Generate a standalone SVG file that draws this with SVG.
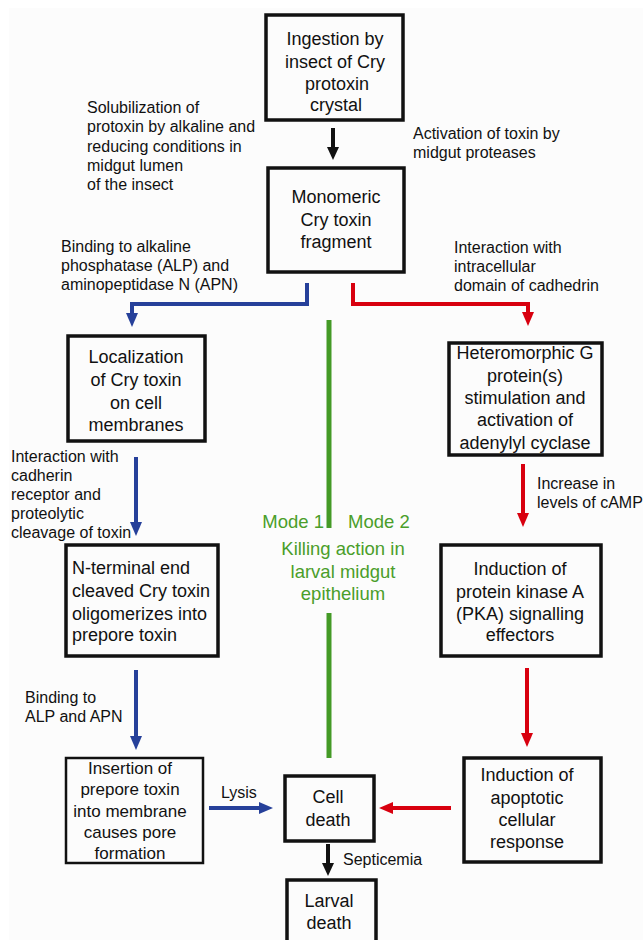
<svg xmlns="http://www.w3.org/2000/svg" width="643" height="940" viewBox="0 0 643 940">
<style>
.box{fill:none;stroke:#111;stroke-width:3.5}
.thin{fill:none;stroke:#111;stroke-width:2.5}
.nt{font-family:"Liberation Sans",Arial,sans-serif;font-size:18px;fill:#111;text-anchor:middle}
.nl{font-family:"Liberation Sans",Arial,sans-serif;font-size:18px;fill:#111}
.an{font-family:"Liberation Sans",Arial,sans-serif;font-size:16px;fill:#111}
.gt{font-family:"Liberation Sans",Arial,sans-serif;font-size:18.5px;fill:#4a9e2a}
.blue{fill:none;stroke:#26409a;stroke-width:4}
.red{fill:none;stroke:#d8000f;stroke-width:4}
.blk{fill:none;stroke:#111;stroke-width:4}
.grn{fill:none;stroke:#449a26;stroke-width:5}
</style>
<rect width="643" height="940" fill="#ffffff"/>
<rect x="9" y="8" width="634" height="932" fill="#fcfcfc"/>

<g id="connectors">
  <path class="blk" d="M333,128 V148"/>
  <path d="M327,147 H339 L333,160 Z" fill="#111"/>
  <path class="blue" d="M307,283 V304 H132 V314"/>
  <path d="M126,313 H138 L132,327 Z" fill="#26409a"/>
  <path class="red" d="M353,283 V304 H528 V313"/>
  <path d="M522,312 H534 L528,326 Z" fill="#d8000f"/>
  <path class="grn" d="M329,320 V528"/>
  <path class="grn" d="M329,613 V758"/>
  <path class="blue" d="M136,457 V523"/>
  <path d="M130,522 H142 L136,536 Z" fill="#26409a"/>
  <path class="red" d="M523,464 V514"/>
  <path d="M517,513 H529 L523,527 Z" fill="#d8000f"/>
  <path class="blue" d="M136,670 V737"/>
  <path d="M130,736 H142 L136,750 Z" fill="#26409a"/>
  <path class="red" d="M527,668 V734"/>
  <path d="M521,733 H533 L527,747 Z" fill="#d8000f"/>
  <path class="blue" d="M209,808 H260"/>
  <path d="M259,802 V814 L273,808 Z" fill="#26409a"/>
  <path class="red" d="M451,808 H392"/>
  <path d="M393,802 V814 L379,808 Z" fill="#d8000f"/>
  <path class="blk" d="M328,844 V864"/>
  <path d="M322,863 H334 L328,876 Z" fill="#111"/>
</g>

<g id="labels">
  <text class="an" x="87" y="113">Solubilization of</text>
  <text class="an" x="87" y="132">protoxin by alkaline and</text>
  <text class="an" x="87" y="152">reducing conditions in</text>
  <text class="an" x="87" y="171">midgut lumen</text>
  <text class="an" x="87" y="190">of the insect</text>
  <text class="an" x="413" y="139">Activation of toxin by</text>
  <text class="an" x="413" y="158">midgut proteases</text>
  <text class="an" x="61" y="252">Binding to alkaline</text>
  <text class="an" x="61" y="271">phosphatase (ALP) and</text>
  <text class="an" x="61" y="290">aminopeptidase N (APN)</text>
  <text class="an" x="454" y="253">Interaction with</text>
  <text class="an" x="454" y="272">intracellular</text>
  <text class="an" x="454" y="291">domain of cadhedrin</text>
  <text class="an" x="11" y="462">Interaction with</text>
  <text class="an" x="11" y="481">cadherin</text>
  <text class="an" x="11" y="500">receptor and</text>
  <text class="an" x="11" y="519">proteolytic</text>
  <text class="an" x="11" y="538">cleavage of toxin</text>
  <text class="an" x="537" y="489">Increase in</text>
  <text class="an" x="537" y="508">levels of cAMP</text>
  <text class="an" x="25" y="703">Binding to</text>
  <text class="an" x="25" y="722">ALP and APN</text>
  <text class="an" x="221" y="798">Lysis</text>
  <text class="an" x="343" y="865">Septicemia</text>
  <text class="gt" x="324" y="528" text-anchor="end">Mode 1</text>
  <text class="gt" x="348" y="528">Mode 2</text>
  <text class="gt" x="343" y="555" text-anchor="middle">Killing action in</text>
  <text class="gt" x="343" y="578" text-anchor="middle">larval midgut</text>
  <text class="gt" x="343" y="600" text-anchor="middle">epithelium</text>
</g>

<g id="n-ingestion">
  <rect class="box" x="266" y="15" width="137" height="105"/>
  <text class="nt" x="335" y="45">Ingestion by</text>
  <text class="nt" x="335" y="68">insect of Cry</text>
  <text class="nt" x="337" y="90">protoxin</text>
  <text class="nt" x="336" y="111">crystal</text>
</g>
<g id="n-monomeric">
  <rect class="box" x="268" y="168" width="136" height="104"/>
  <text class="nt" x="336" y="203">Monomeric</text>
  <text class="nt" x="336" y="226">Cry toxin</text>
  <text class="nt" x="336" y="248">fragment</text>
</g>
<g id="n-localization">
  <rect class="box" x="68" y="336" width="137" height="105"/>
  <text class="nt" x="136" y="363">Localization</text>
  <text class="nt" x="136" y="386">of Cry toxin</text>
  <text class="nt" x="136" y="409">on cell</text>
  <text class="nt" x="136" y="431">membranes</text>
</g>
<g id="n-heteromorphic">
  <rect class="box" x="449" y="343" width="153" height="112"/>
  <text class="nt" x="525" y="359">Heteromorphic G</text>
  <text class="nt" x="525" y="382">protein(s)</text>
  <text class="nt" x="525" y="404">stimulation and</text>
  <text class="nt" x="525" y="426">activation of</text>
  <text class="nt" x="525" y="449">adenylyl cyclase</text>
</g>
<g id="n-nterminal">
  <rect class="box" x="66" y="545" width="152" height="111"/>
  <text class="nl" x="72" y="574">N-terminal end</text>
  <text class="nl" x="72" y="597">cleaved Cry toxin</text>
  <text class="nl" x="72" y="620">oligomerizes into</text>
  <text class="nl" x="72" y="641">prepore toxin</text>
</g>
<g id="n-pka">
  <rect class="box" x="441" y="545" width="160" height="111"/>
  <text class="nt" x="520" y="575">Induction of</text>
  <text class="nt" x="520" y="598">protein kinase A</text>
  <text class="nt" x="520" y="620">(PKA) signalling</text>
  <text class="nt" x="520" y="641">effectors</text>
</g>
<g id="n-insertion">
  <rect class="thin" x="66" y="758" width="137" height="105"/>
  <text class="nt" x="130" y="774" style="font-size:17px">Insertion of</text>
  <text class="nt" x="130" y="795" style="font-size:17px">prepore toxin</text>
  <text class="nt" x="130" y="817" style="font-size:17px">into membrane</text>
  <text class="nt" x="130" y="838" style="font-size:17px">causes pore</text>
  <text class="nt" x="130" y="859" style="font-size:17px">formation</text>
</g>
<g id="n-celldeath">
  <rect class="box" x="285" y="776" width="89" height="65"/>
  <text class="nt" x="328" y="803">Cell</text>
  <text class="nt" x="328" y="826">death</text>
</g>
<g id="n-apoptotic">
  <rect class="box" x="464" y="758" width="137" height="104"/>
  <text class="nt" x="527" y="781">Induction of</text>
  <text class="nt" x="527" y="804">apoptotic</text>
  <text class="nt" x="527" y="826">cellular</text>
  <text class="nt" x="527" y="848">response</text>
</g>
<g id="n-larval">
  <rect class="box" x="287" y="880" width="89" height="70"/>
  <text class="nt" x="329" y="907">Larval</text>
  <text class="nt" x="329" y="929">death</text>
</g>
</svg>
